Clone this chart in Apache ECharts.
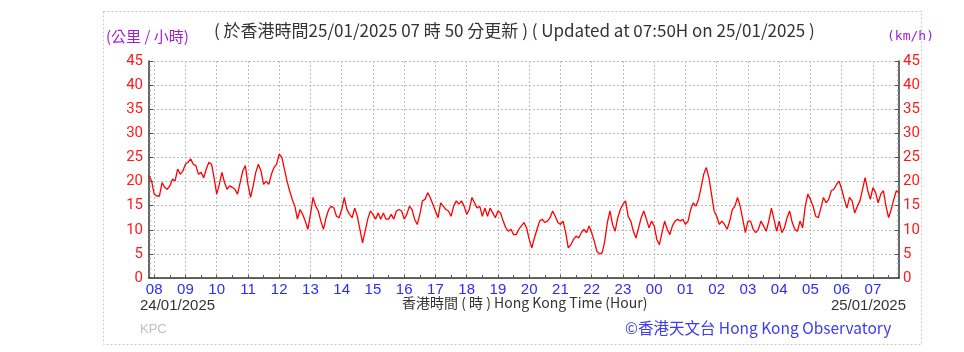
<!DOCTYPE html>
<html>
<head>
<meta charset="utf-8">
<script src="https://cdn.jsdelivr.net/npm/echarts@6/dist/echarts.min.js"></script>
<style>
  html, body { margin: 0; padding: 0; background: #fff; }
  #chart { width: 964px; height: 352px; }
</style>
</head>
<body>
<div id="chart"></div>
<script>
// 10-min mean wind speed, 5 minute steps, 24/01/2025 07:50 -> 25/01/2025 07:50
const speedDay1 = [
  21.2, 20.1, 17.4, 17.0, 17.0, 19.8, 18.8, 18.4, 19.1, 20.5,
  20.1, 22.6, 21.5, 22.2, 23.6, 24.0, 24.7, 23.6, 23.3, 21.5,
  21.9, 20.8, 22.6, 24.0, 23.6, 20.8, 17.4, 19.4, 21.9, 19.8,
  18.4, 19.1, 18.8, 18.4, 17.4, 19.8, 22.2, 23.3, 19.4, 16.7,
  19.1, 21.9, 23.6, 22.2, 19.4, 20.1, 19.4, 21.5, 22.9, 23.6,
  25.7, 25.0, 22.6, 20.1, 18.1, 16.3, 14.9, 12.2, 14.2, 13.2,
  11.8, 10.1, 13.2, 16.7, 14.9, 13.9, 11.8, 10.1, 12.5, 14.2,
  14.9, 14.5, 12.8, 12.5, 14.2, 16.7, 14.2, 13.2, 12.5, 14.5,
  12.8, 10.1, 7.3, 9.7, 12.2, 13.9, 13.2, 12.2, 13.5, 12.2,
  13.5, 12.2, 12.2, 13.2, 12.2, 13.9
];
const speedNight = [
  14.2, 13.9, 12.2, 13.2, 14.9, 14.2, 12.2, 11.1, 13.2,
  16.0, 16.3, 17.7, 16.7, 15.3, 13.9, 12.5, 15.6, 14.9,
  14.2, 13.9, 12.8, 14.9, 16.0, 15.3, 16.0, 14.9, 13.2,
  14.2, 16.7, 15.6, 14.5, 14.9, 12.8, 14.5, 12.8, 14.5, 13.5,
  12.5, 13.9, 13.5, 11.8, 10.4, 9.7, 10.1, 9.0, 9.0, 10.1,
  10.8, 11.5, 10.4, 8.0, 6.25, 8.3, 10.1, 11.8, 12.2, 11.5,
  11.8, 12.5, 13.9, 12.8, 11.5, 11.1, 11.8, 9.4, 6.25,
  6.9, 8.0, 8.7, 8.3, 9.4, 10.1, 9.4, 10.8, 9.4,
  7.6, 5.55, 5.0, 5.2, 7.6, 11.5, 13.9, 11.1, 9.7, 12.5,
  14.2, 15.3, 16.0, 12.8, 11.8, 9.7, 8.3, 10.4,
  12.5, 13.9, 12.2, 10.4
];
const speedDay2 = [
  11.8, 10.8, 8.0, 6.9, 9.4, 11.8, 10.1, 9.0, 10.8,
  11.8, 12.2, 11.8, 12.2, 11.1, 11.8, 14.2, 15.6,
  14.9, 16.3, 18.75, 21.5, 22.9, 20.8, 17.4, 13.9, 12.8,
  11.1, 11.8, 11.1, 10.1, 11.8, 14.2, 14.9, 16.7,
  14.9, 12.2, 9.4, 11.8, 11.8, 10.1, 9.4, 10.1, 11.8,
  10.8, 9.7, 11.8, 14.5, 12.2, 9.7, 11.8, 9.4, 10.4,
  12.5, 13.9, 11.5, 10.1, 9.7, 11.8, 10.4, 14.9, 17.4,
  16.3, 14.9, 12.8, 12.5, 14.5, 16.7, 15.6, 16.3, 18.1,
  18.4, 19.4, 20.1, 18.4, 16.3, 14.5, 16.7, 16.0, 13.5,
  14.9, 16.0, 18.4, 20.8, 18.1, 16.3, 18.75, 17.7, 15.6, 17.4,
  18.1, 14.9, 12.5, 14.2, 16.3, 18.1, 17.7
];
const speeds = speedDay1.concat(speedNight, speedDay2);

const yTicks = [0, 45, 5]; // min, max, step

// time labels HH:MM every 5 minutes starting 07:50
const times = [];
for (let i = 0; i < speeds.length; i++) {
  const m = (7 * 60 + 50 + i * 5) % 1440;
  times.push(String(Math.floor(m / 60)).padStart(2, '0') + ':' + String(m % 60).padStart(2, '0'));
}

const onHour = (idx, val) => val.slice(3) === '00';
const onHalf = (idx, val) => val.slice(3) === '00' || val.slice(3) === '30';

const chart = echarts.init(document.getElementById('chart'));

const yAxisBase = {
  type: 'value',
  min: yTicks[0],
  max: yTicks[1],
  interval: yTicks[2],
  axisLine: { show: true, lineStyle: { color: '#333', width: 1.5 } },
  axisTick: { show: true, inside: true, length: 4, lineStyle: { color: '#555' } },
  minorTick: { show: true, splitNumber: 5, length: 2, lineStyle: { color: '#999' } },
  splitLine: { show: true, lineStyle: { color: '#bbb', type: [2, 2], width: 1 } },
  axisLabel: {
    color: '#ff1a1a',
    fontSize: 15,
    fontFamily: '"Liberation Sans Narrow", "Arial Narrow", "Roboto", sans-serif'
  }
};

const option = {
  backgroundColor: '#fff',
  animation: false,
  grid: { left: 149, right: 65, top: 61, bottom: 74 },
  xAxis: {
    type: 'category',
    data: times,
    boundaryGap: false,
    axisLine: { show: true, lineStyle: { color: '#333', width: 1.5 } },
    axisTick: { show: true, inside: true, length: 3, interval: onHalf, lineStyle: { color: '#555' } },
    splitLine: { show: true, interval: onHour, lineStyle: { color: '#bbb', type: [2, 2], width: 1 } },
    axisLabel: {
      interval: onHour,
      formatter: v => v.slice(0, 2),
      color: '#2b2bff',
      fontSize: 15,
      margin: 4,
      fontFamily: 'Arial, "Liberation Sans", sans-serif'
    }
  },
  yAxis: [
    Object.assign({}, yAxisBase, { position: 'left', axisLabel: Object.assign({}, yAxisBase.axisLabel, { margin: 6 }) }),
    Object.assign({}, yAxisBase, { position: 'right', splitLine: { show: false }, axisLabel: Object.assign({}, yAxisBase.axisLabel, { margin: 4 }) })
  ],
  series: [{
    type: 'line',
    data: speeds,
    showSymbol: false,
    lineStyle: { color: '#ff0000', width: 1.3 },
    itemStyle: { color: '#ff0000' }
  }],
  graphic: [
    {
      type: 'rect', left: 101, top: 9, silent: true,
      shape: { width: 818, height: 333 },
      style: { fill: 'none', stroke: '#c8c8c8', lineWidth: 1, lineDash: [2, 2] }
    },
    {
      type: 'text', left: 106, top: 29,
      style: { text: '(公里 / 小時)', fill: '#a020d0', font: '15px "Noto Sans CJK TC", sans-serif' }
    },
    {
      type: 'text', left: 214, top: 22,
      style: { text: '( 於香港時間25/01/2025 07 時 50 分更新 ) ( Updated at 07:50H on 25/01/2025 )', fill: '#333', font: '17px "Noto Sans CJK TC", sans-serif' }
    },
    {
      type: 'text', right: 30, top: 30,
      style: { text: '(km/h)', fill: '#a020d0', font: '13px "DejaVu Sans Mono", monospace' }
    },
    {
      type: 'text', left: 140, top: 298,
      style: { text: '24/01/2025', fill: '#333', font: '15px Arial, "Liberation Sans", sans-serif' }
    },
    {
      type: 'text', right: 58, top: 298,
      style: { text: '25/01/2025', fill: '#333', font: '15px Arial, "Liberation Sans", sans-serif' }
    },
    {
      type: 'text', left: 402, top: 296,
      style: { text: '香港時間 ( 時 ) Hong Kong Time (Hour)', fill: '#333', font: '14px "Noto Sans CJK TC", sans-serif' }
    },
    {
      type: 'text', left: 140, top: 323,
      style: { text: 'KPC', fill: '#c0c0c0', font: '13px Arial, "Liberation Sans", sans-serif' }
    },
    {
      type: 'text', left: 625, top: 320,
      style: { text: '©香港天文台 Hong Kong Observatory', fill: '#3c3cf0', font: '15.5px "Noto Sans CJK TC", sans-serif' }
    }
  ]
};

chart.setOption(option);
</script>
</body>
</html>
